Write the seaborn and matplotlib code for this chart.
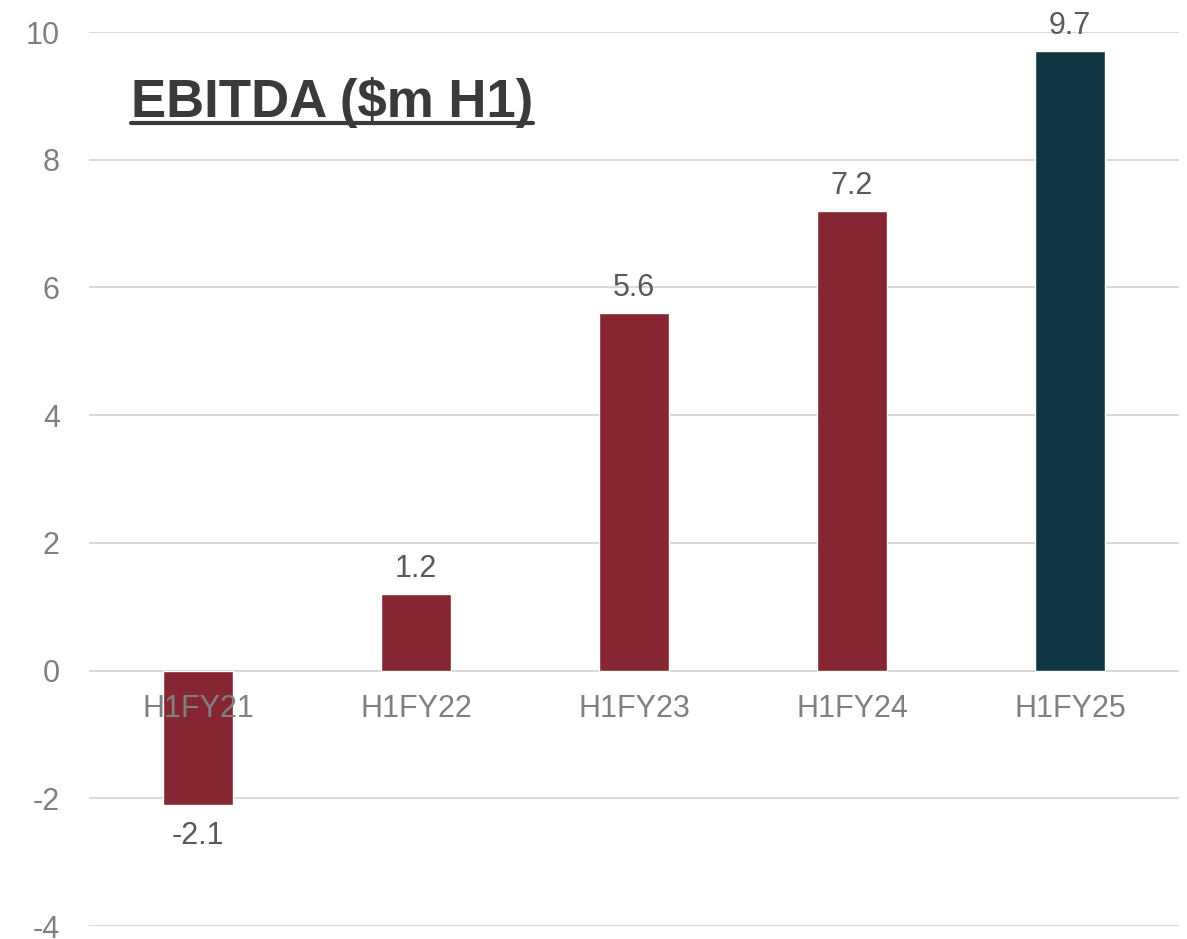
import matplotlib
matplotlib.use("Agg")
import matplotlib.pyplot as plt
import seaborn as sns
import pandas as pd
from matplotlib.lines import Line2D

categories = ["H1FY21", "H1FY22", "H1FY23", "H1FY24", "H1FY25"]
values = [-2.1, 1.2, 5.6, 7.2, 9.7]
bar_colors = ["#862633", "#862633", "#862633", "#862633", "#0F3642"]
y_ticks = [-4, -2, 0, 2, 4, 6, 8, 10]
title = "EBITDA ($m H1)"

sns.set_theme(style="white")
plt.rcParams["font.family"] = ["Liberation Sans", "DejaVu Sans"]

df = pd.DataFrame({"period": categories, "ebitda": values})

fig = plt.figure(figsize=(11.87, 9.39), dpi=100)
ax = fig.add_axes([89 / 1187, 13 / 939, 1090 / 1187, 894 / 939])

sns.barplot(data=df, x="period", y="ebitda", hue="period",
            palette=dict(zip(categories, bar_colors)), legend=False,
            width=0.32, saturation=1, ax=ax, zorder=2)

ax.set_ylim(-4, 10)
ax.set_xlim(-0.5, len(categories) - 0.5)
ax.set_yticks(y_ticks)
ax.set_yticklabels([str(t) for t in y_ticks])
ax.yaxis.grid(True, color="#D9D9D9", linewidth=1.5, zorder=0)
ax.set_axisbelow(True)
for s in ax.spines.values():
    s.set_visible(False)
ax.set_xlabel("")
ax.set_ylabel("")
ax.tick_params(axis="y", length=0, pad=21, labelsize=22, labelcolor="#808080")
ax.tick_params(axis="x", length=0, labelbottom=False)

# category labels drawn just below the zero line, on top of the bars
for i, cat in enumerate(categories):
    ax.annotate(cat, xy=(i, 0), xytext=(0, -17), textcoords="offset points",
                ha="center", va="top", fontsize=22, color="#808080", zorder=5)

for i, v in enumerate(values):
    ax.annotate(f"{v:.1f}", xy=(i, v), xytext=(0, 7 if v >= 0 else -12),
                textcoords="offset points", ha="center",
                va="bottom" if v >= 0 else "top",
                fontsize=22, color="#595959", zorder=5)

t = fig.text(131 / 1187, 1 - 117 / 939, title, fontsize=38, fontweight="bold",
             color="#3A3A3A", ha="left", va="baseline")
fig.canvas.draw()
bb = t.get_window_extent()
y_ul = (939 - 123) / 939
fig.add_artist(Line2D([bb.x0 / 1187, bb.x1 / 1187], [y_ul, y_ul],
                      transform=fig.transFigure, color="#3A3A3A", linewidth=3))

fig.savefig("out.png", dpi=100)
